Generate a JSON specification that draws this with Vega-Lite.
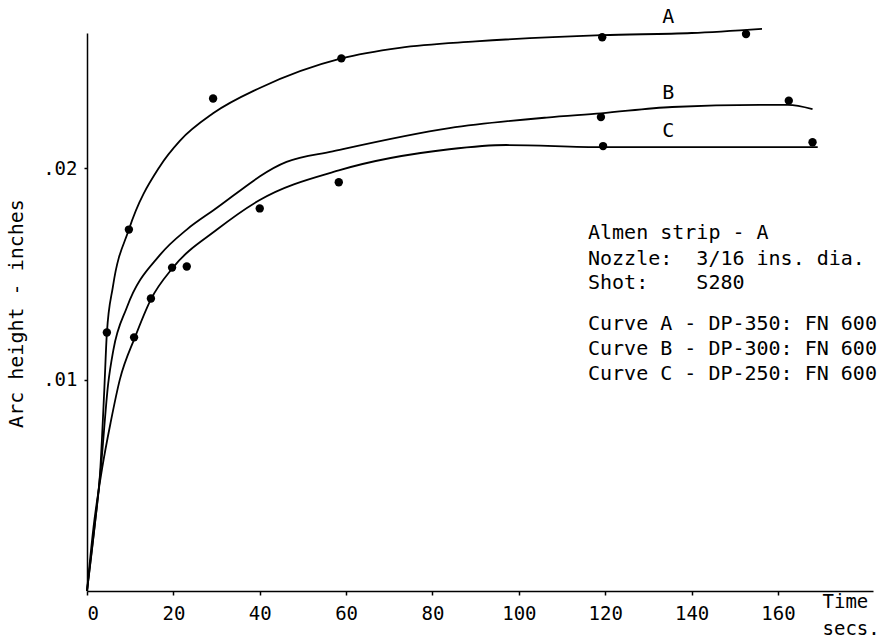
{
  "$schema": "https://vega.github.io/schema/vega-lite/v6.json",
  "width": 786,
  "height": 558,
  "autosize": "none",
  "padding": {"left": 87, "top": 33, "right": 15, "bottom": 47},
  "background": "white",
  "config": {"view": {"stroke": null}, "font": "DejaVu Sans Mono"},
  "datasets": {
    "curves": [
      {"curve": "A", "x": 0, "y": 0},
      {"curve": "A", "x": 1.9, "y": 0.0033},
      {"curve": "A", "x": 3.0, "y": 0.0055},
      {"curve": "A", "x": 4.0, "y": 0.0095},
      {"curve": "A", "x": 4.6, "y": 0.0122},
      {"curve": "A", "x": 6.0, "y": 0.0144},
      {"curve": "A", "x": 9.7, "y": 0.0171},
      {"curve": "A", "x": 16.9, "y": 0.0201},
      {"curve": "A", "x": 21.5, "y": 0.0213},
      {"curve": "A", "x": 29.2, "y": 0.0226},
      {"curve": "A", "x": 40, "y": 0.0238},
      {"curve": "A", "x": 58.9, "y": 0.0252},
      {"curve": "A", "x": 72.4, "y": 0.0257},
      {"curve": "A", "x": 90, "y": 0.026},
      {"curve": "A", "x": 119.3, "y": 0.0263},
      {"curve": "A", "x": 140, "y": 0.0264},
      {"curve": "A", "x": 156.3, "y": 0.0266},
      {"curve": "B", "x": 0, "y": 0},
      {"curve": "B", "x": 1.9, "y": 0.0033},
      {"curve": "B", "x": 3.2, "y": 0.0058},
      {"curve": "B", "x": 4.9, "y": 0.0098},
      {"curve": "B", "x": 6.1, "y": 0.0114},
      {"curve": "B", "x": 9.2, "y": 0.0134},
      {"curve": "B", "x": 16.9, "y": 0.0159},
      {"curve": "B", "x": 23.1, "y": 0.0171},
      {"curve": "B", "x": 29.2, "y": 0.018},
      {"curve": "B", "x": 46.2, "y": 0.0203},
      {"curve": "B", "x": 56.9, "y": 0.0208},
      {"curve": "B", "x": 83.9, "y": 0.0219},
      {"curve": "B", "x": 106.4, "y": 0.0224},
      {"curve": "B", "x": 119, "y": 0.0226},
      {"curve": "B", "x": 135.5, "y": 0.0229},
      {"curve": "B", "x": 155.8, "y": 0.023},
      {"curve": "B", "x": 162.3, "y": 0.023},
      {"curve": "B", "x": 168, "y": 0.0228},
      {"curve": "C", "x": 0, "y": 0},
      {"curve": "C", "x": 1.5, "y": 0.003},
      {"curve": "C", "x": 3.5, "y": 0.0058},
      {"curve": "C", "x": 5.5, "y": 0.008},
      {"curve": "C", "x": 7.6, "y": 0.01},
      {"curve": "C", "x": 11.1, "y": 0.012},
      {"curve": "C", "x": 14.8, "y": 0.0138},
      {"curve": "C", "x": 19.9, "y": 0.0153},
      {"curve": "C", "x": 30.1, "y": 0.0171},
      {"curve": "C", "x": 40, "y": 0.0185},
      {"curve": "C", "x": 58.3, "y": 0.0199},
      {"curve": "C", "x": 83.9, "y": 0.0209},
      {"curve": "C", "x": 97.1, "y": 0.0211},
      {"curve": "C", "x": 119.5, "y": 0.021},
      {"curve": "C", "x": 143.4, "y": 0.021},
      {"curve": "C", "x": 169.2, "y": 0.021}
    ],
    "points": [
      {"curve": "A", "x": 4.6, "y": 0.01223},
      {"curve": "A", "x": 9.7, "y": 0.0171},
      {"curve": "A", "x": 29.2, "y": 0.0233},
      {"curve": "A", "x": 58.9, "y": 0.0252},
      {"curve": "A", "x": 119.3, "y": 0.0262},
      {"curve": "A", "x": 152.6, "y": 0.02635},
      {"curve": "B", "x": 19.7, "y": 0.0153},
      {"curve": "B", "x": 119, "y": 0.02242},
      {"curve": "B", "x": 162.5, "y": 0.0232},
      {"curve": "C", "x": 10.9, "y": 0.012},
      {"curve": "C", "x": 14.8, "y": 0.01384},
      {"curve": "C", "x": 23.1, "y": 0.01535},
      {"curve": "C", "x": 40, "y": 0.0181},
      {"curve": "C", "x": 58.3, "y": 0.01934},
      {"curve": "C", "x": 119.5, "y": 0.02105},
      {"curve": "C", "x": 168, "y": 0.02123}
    ],
    "curveLabels": [
      {"label": "A", "x": 134.6, "y": 0.02716},
      {"label": "B", "x": 134.6, "y": 0.02355},
      {"label": "C", "x": 134.6, "y": 0.02175}
    ],
    "notes": [
      {"label": "Almen strip - A", "x": 116, "y": 0.01692},
      {"label": "Nozzle:\u00a0\u00a03/16 ins. dia.", "x": 116, "y": 0.01573},
      {"label": "Shot:\u00a0\u00a0\u00a0\u00a0S280", "x": 116, "y": 0.01455},
      {"label": "Curve A - DP-350: FN 600", "x": 116, "y": 0.01265},
      {"label": "Curve B - DP-300: FN 600", "x": 116, "y": 0.01147},
      {"label": "Curve C - DP-250: FN 600", "x": 116, "y": 0.01028}
    ]
  },
  "layer": [
    {
      "data": {"name": "curves"},
      "mark": {"type": "line", "interpolate": "monotone", "color": "black", "strokeWidth": 1.8},
      "encoding": {
        "x": {
          "field": "x", "type": "quantitative",
          "scale": {"domain": [0, 182], "nice": false, "zero": true},
          "axis": {
            "values": [0, 20, 40, 60, 80, 100, 120, 140, 160],
            "grid": false,
            "domainColor": "black", "domainWidth": 1.5,
            "tickColor": "black", "tickSize": 4, "tickWidth": 1.5,
            "labelFont": "DejaVu Sans Mono", "labelFontSize": 19, "labelColor": "black",
            "labelPadding": 9,
            "title": ["Time", "secs."],
            "titleFont": "DejaVu Sans Mono", "titleFontSize": 19, "titleFontWeight": "normal",
            "titleColor": "black",
            "titleX": 735, "titleY": 1, "titleAlign": "left", "titleBaseline": "top",
            "titleAngle": 0, "titleLineHeight": 27
          }
        },
        "y": {
          "field": "y", "type": "quantitative",
          "scale": {"domain": [0, 0.0264], "nice": false, "zero": true},
          "axis": {
            "values": [0.01, 0.02],
            "labelExpr": "replace(format(datum.value, '.2f'), '0.', '.')",
            "grid": false,
            "domainColor": "black", "domainWidth": 1.5,
            "tickColor": "black", "tickSize": 3, "tickWidth": 1.5,
            "labelFont": "DejaVu Sans Mono", "labelFontSize": 19, "labelColor": "black",
            "labelPadding": 7,
            "title": "Arc height - inches",
            "titleFont": "DejaVu Sans Mono", "titleFontSize": 20, "titleFontWeight": "normal",
            "titleColor": "black",
            "titleX": -65, "titleY": 280, "titleAngle": -90,
            "titleAlign": "center", "titleBaseline": "alphabetic"
          }
        },
        "detail": {"field": "curve"}
      }
    },
    {
      "data": {"name": "points"},
      "mark": {"type": "point", "filled": true, "color": "black", "opacity": 1, "size": 70},
      "encoding": {
        "x": {"field": "x", "type": "quantitative"},
        "y": {"field": "y", "type": "quantitative"}
      }
    },
    {
      "data": {"name": "curveLabels"},
      "mark": {"type": "text", "align": "center", "baseline": "middle", "font": "DejaVu Sans Mono", "fontSize": 20, "color": "black"},
      "encoding": {
        "x": {"field": "x", "type": "quantitative"},
        "y": {"field": "y", "type": "quantitative"},
        "text": {"field": "label"}
      }
    },
    {
      "data": {"name": "notes"},
      "mark": {"type": "text", "align": "left", "baseline": "middle", "font": "DejaVu Sans Mono", "fontSize": 20, "color": "black"},
      "encoding": {
        "x": {"field": "x", "type": "quantitative"},
        "y": {"field": "y", "type": "quantitative"},
        "text": {"field": "label"}
      }
    }
  ]
}
